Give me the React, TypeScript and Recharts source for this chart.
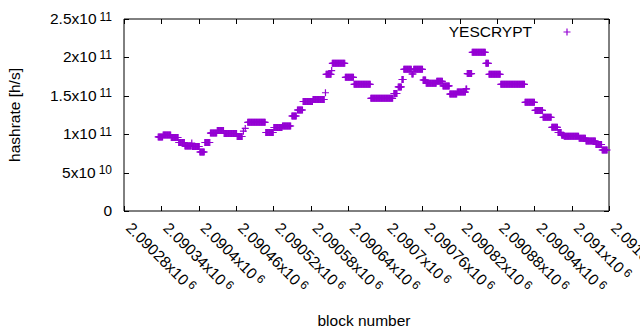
import { ScatterChart, Scatter, XAxis, YAxis, Legend, ReferenceArea } from 'recharts';

// runs of blocks that share the same hashrate estimate (rate in 1e9 h/s)
const runFirst = [
  2090335, 2090343, 2090356, 2090368, 2090378, 2090389, 2090390, 2090402, 2090410, 2090419,
  2090430, 2090441, 2090462, 2090472, 2090475, 2090479, 2090508, 2090521, 2090535, 2090550,
  2090559, 2090568, 2090584, 2090604, 2090605, 2090614, 2090615, 2090636, 2090650, 2090677,
  2090714, 2090721, 2090727, 2090730, 2090743, 2090746, 2090761, 2090766, 2090783, 2090793,
  2090804, 2090816, 2090830, 2090832, 2090840, 2090862, 2090867, 2090886, 2090925, 2090941,
  2090954, 2090968, 2090978, 2090984, 2090988, 2091012, 2091023, 2091039, 2091049,
];
const runLast = [
  2090342, 2090355, 2090367, 2090377, 2090388, 2090389, 2090401, 2090409, 2090418, 2090429,
  2090440, 2090461, 2090470, 2090472, 2090475, 2090507, 2090520, 2090534, 2090548, 2090557,
  2090567, 2090583, 2090602, 2090604, 2090613, 2090614, 2090635, 2090649, 2090676, 2090712,
  2090719, 2090726, 2090729, 2090742, 2090745, 2090760, 2090765, 2090782, 2090792, 2090803,
  2090815, 2090829, 2090831, 2090839, 2090861, 2090866, 2090885, 2090924, 2090940, 2090953,
  2090967, 2090977, 2090983, 2090987, 2091011, 2091022, 2091038, 2091048, 2091057,
];
const runRate = [
  96.4, 99.0, 95.7, 89.2, 84.6, 88.5, 84.0, 76.8, 89.2, 101.4,
  104.8, 100.9, 97.0, 104.0, 107.5, 115.5, 102.2, 108.7, 110.7, 123.7,
  131.5, 142.6, 145.2, 154.0, 178.0, 182.9, 192.3, 174.1, 165.0, 146.7,
  153.0, 161.5, 171.2, 184.5, 178.4, 184.5, 170.6, 166.3, 168.9, 162.8,
  152.3, 154.9, 158.9, 179.0, 206.6, 192.3, 178.0, 165.0, 141.5, 130.9,
  122.0, 109.0, 102.2, 98.6, 97.3, 94.7, 91.1, 86.6, 79.4,
];

const xTicks = [
  2090280, 2090340, 2090400, 2090460, 2090520, 2090580, 2090640,
  2090700, 2090760, 2090820, 2090880, 2090940, 2091000, 2091060,
];
const xTickText = [
  '2.09028', '2.09034', '2.0904', '2.09046', '2.09052', '2.09058', '2.09064',
  '2.0907', '2.09076', '2.09082', '2.09088', '2.09094', '2.091', '2.09106',
];
const yTicks = [0, 5e10, 1e11, 1.5e11, 2e11, 2.5e11];
const yTickText = ['0', '5', '1', '1.5', '2', '2.5'];
const yTickExp = ['', '10', '11', '11', '11', '11'];

const COLOR = '#9400d3';
const FONT = '"Liberation Sans", Arial, sans-serif';
// plot frame (gnuplot style box, ticks pointing in on all four sides)
const TOP = 19;
const BOTTOM = 211;
const LEFT = 124;
const RIGHT = 609;

const points: { block: number; rate: number }[] = [];
runFirst.forEach((first, i) => {
  for (let b = first; b <= runLast[i]; b++) points.push({ block: b, rate: runRate[i] * 1e9 });
});

function Cross(props: any) {
  const { cx, cy } = props;
  return (
    <path
      d={`M${cx - 3.5},${cy}H${cx + 3.5}M${cx},${cy - 3.5}V${cy + 3.5}`}
      stroke={COLOR}
      strokeWidth={1.2}
      fill="none"
    />
  );
}

function XTick(props: any) {
  const { x, payload } = props;
  const i = xTicks.indexOf(payload.value);
  const px = Math.round(x) + 0.5;
  return (
    <g>
      <line x1={px} x2={px} y1={BOTTOM} y2={BOTTOM - 5} stroke="#000" />
      <line x1={px} x2={px} y1={TOP} y2={TOP + 5} stroke="#000" />
      <g transform={`translate(${x + 1},229) rotate(45)`}>
        <text x={0} y={0} fontSize={15.5} fontFamily={FONT} fill="#000">
          {xTickText[i]}x10
          <tspan dx={3} dy={-4} fontSize={12}>6</tspan>
        </text>
      </g>
    </g>
  );
}

function YTick(props: any) {
  const { y, payload } = props;
  const i = yTicks.indexOf(payload.value);
  const py = Math.round(y) + 0.5;
  return (
    <g>
      <line x1={LEFT} x2={LEFT + 5} y1={py} y2={py} stroke="#000" />
      <line x1={RIGHT} x2={RIGHT - 5} y1={py} y2={py} stroke="#000" />
      <text x={112} y={y + 5} textAnchor="end" fontSize={15.5} fontFamily={FONT} fill="#000">
        {yTickExp[i] ? `${yTickText[i]}x10` : yTickText[i]}
        {yTickExp[i] && <tspan dx={3} dy={-3.5} fontSize={12}>{yTickExp[i]}</tspan>}
      </text>
    </g>
  );
}

const YTitle = () => (
  <g transform="translate(19.5,115) rotate(-90)">
    <text textAnchor="middle" fontSize={15.5} fontFamily={FONT} fill="#000">hashrate [h/s]</text>
  </g>
);

const XTitle = () => (
  <text x={364} y={325.5} textAnchor="middle" fontSize={15.5} fontFamily={FONT} fill="#000">
    block number
  </text>
);

function KeyBox(props: any) {
  const name = props.payload?.[0]?.value ?? '';
  return (
    <svg width={640} height={50}>
      <text x={532} y={37} textAnchor="end" fontSize={15.5} fontFamily={FONT} fill="#000">{name}</text>
      <Cross cx={567} cy={32} />
    </svg>
  );
}

export default function App() {
  return (
    <div style={{ position: 'absolute', left: 0, top: 0, width: 640, height: 330, background: '#fff' }}>
      <ScatterChart width={640} height={330} margin={{ top: TOP, right: 640 - RIGHT, bottom: 0, left: 0 }}>
        <XAxis
          dataKey="block"
          type="number"
          domain={[2090280, 2091060]}
          ticks={xTicks}
          interval={0}
          height={330 - BOTTOM}
          tickSize={0}
          tickMargin={0}
          tickLine={false}
          axisLine={false}
          tick={<XTick />}
          label={<XTitle />}
        />
        <YAxis
          dataKey="rate"
          type="number"
          domain={[0, 2.5e11]}
          ticks={yTicks}
          interval={0}
          width={LEFT}
          tickSize={0}
          tickMargin={0}
          tickLine={false}
          axisLine={false}
          tick={<YTick />}
          label={<YTitle />}
        />
        <ReferenceArea
          x1={2090280}
          x2={2091060}
          y1={0}
          y2={2.5e11}
          fill="none"
          fillOpacity={0}
          stroke="#000"
          strokeWidth={1}
          strokeOpacity={1}
        />
        <Legend
          layout="vertical"
          align="center"
          verticalAlign="middle"
          wrapperStyle={{ left: 0, top: 0, width: 640, height: 50 }}
          content={<KeyBox />}
        />
        <Scatter
          name="YESCRYPT"
          data={points}
          fill={COLOR}
          shape={<Cross />}
          isAnimationActive={false}
        />
      </ScatterChart>
    </div>
  );
}
